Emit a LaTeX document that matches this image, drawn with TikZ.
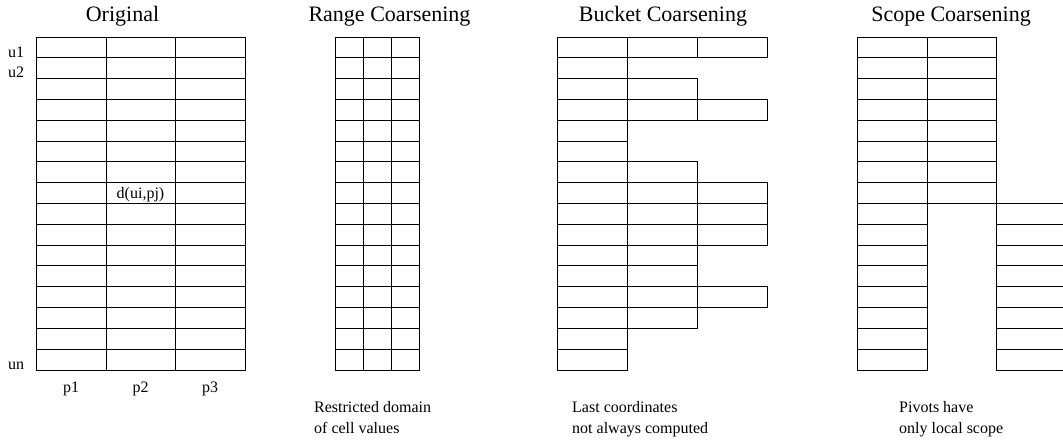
\documentclass[tikz,border=0pt]{standalone}
\usepackage{fontspec}
\setmainfont{Liberation Serif}
\begin{document}
\begin{tikzpicture}[x=1pt,y=-1pt,
  cell/.style={draw=black,line width=0.9pt},
  title/.style={anchor=base,inner sep=0pt,font=\fontsize{22}{26}\selectfont},
  lab/.style={anchor=base,inner sep=0pt,font=\fontsize{16}{19}\selectfont},
  labw/.style={anchor=base west,inner sep=0pt,font=\fontsize{16}{19}\selectfont}]
\clip (0,0) rectangle (1063,442);
\fill[white] (0,0) rectangle (1063,442);
\def\rh{20.8125}
% Original
\foreach \i in {0,...,15}{
  \foreach \xa/\xb in {36/106,106/175,175/245}{
    \draw[cell] (\xa,{37+\rh*\i}) rectangle (\xb,{37+\rh*(\i+1)});
  }
}
% Range coarsening
\foreach \i in {0,...,15}{
  \foreach \xa/\xb in {335/363,363/391,391/419}{
    \draw[cell] (\xa,{37+\rh*\i}) rectangle (\xb,{37+\rh*(\i+1)});
  }
}
% Bucket coarsening
\foreach \n [count=\k from 0] in {3,1,2,3,1,1,2,3,3,3,2,2,3,2,1,1}{
  \foreach \c in {1,...,\n}{
    \draw[cell] ({557+70*(\c-1)},{37+\rh*\k}) rectangle ({557+70*\c},{37+\rh*(\k+1)});
  }
}
% Scope coarsening
\foreach \i in {0,...,7}{
  \draw[cell] (857,{37+\rh*\i}) rectangle (927,{37+\rh*(\i+1)});
  \draw[cell] (927,{37+\rh*\i}) rectangle (996,{37+\rh*(\i+1)});
}
\foreach \i in {8,...,15}{
  \draw[cell] (857,{37+\rh*\i}) rectangle (927,{37+\rh*(\i+1)});
  \draw[cell] (996,{37+\rh*\i}) rectangle (1068,{37+\rh*(\i+1)});
}
% titles
\node[title] (t1) at (122.5,21) {Original};
\node[title] (t2) at (389.5,21) {Range Coarsening};
\node[title] (t3) at (663,21) {Bucket Coarsening};
\node[title] (t4) at (951,21) {Scope Coarsening};
% labels
\node[labw] (u1) at (8,57) {u1};
\node[labw] (u2) at (8,77.5) {u2};
\node[labw] (un) at (8,369) {un};
\node[lab] (p1) at (71,392) {p1};
\node[lab] (p2) at (140.5,392) {p2};
\node[lab] (p3) at (210,392) {p3};
\node[lab] (d) at (140.5,198) {d(ui,pj)};
\node[labw] (r1) at (314,412) {Restricted domain};
\node[labw] (r2) at (314,433) {of cell values};
\node[labw] (b1) at (572,412) {Last coordinates};
\node[labw] (b2) at (572,433) {not always computed};
\node[labw] (s1) at (899,412) {Pivots have};
\node[labw] (s2) at (899,433) {only local scope};
\end{tikzpicture}
\end{document}
